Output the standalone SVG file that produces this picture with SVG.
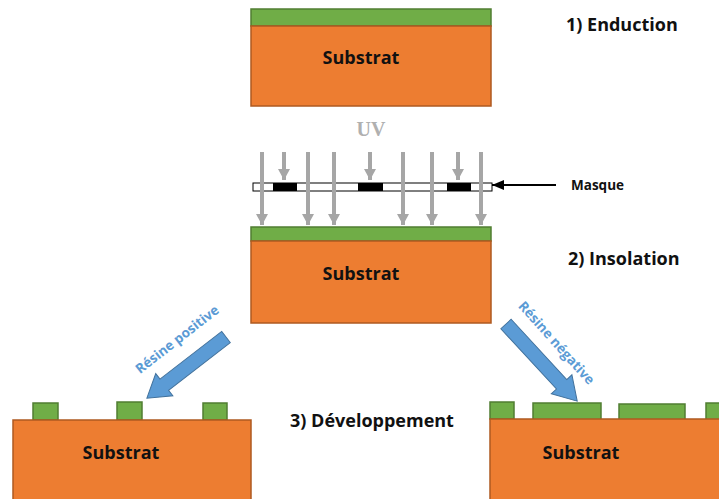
<svg xmlns="http://www.w3.org/2000/svg" width="719" height="499" viewBox="0 0 719 499">
<defs>
<style>
.sub{fill:#ED7D31;stroke:#AE5A21;stroke-width:1.5}
.res{fill:#70AD47;stroke:#507E32;stroke-width:1.5}
.lbl{font-family:"Open Sans","Liberation Sans",sans-serif;font-weight:700;fill:#111}
.uv{stroke:#A6A6A6;stroke-width:4;fill:none}
.blue{fill:#5B9BD5;stroke:#41719C;stroke-width:1}
.btxt{font-family:"Open Sans","Liberation Sans",sans-serif;font-weight:700;fill:#5B9BD5;font-size:13.5px}
</style>
<marker id="uvh" markerWidth="12" markerHeight="12" refX="11" refY="6" orient="auto" markerUnits="userSpaceOnUse">
<path d="M0,0 L11,6 L0,12 Z" fill="#A6A6A6"/>
</marker>
<marker id="blk" markerWidth="12" markerHeight="10" refX="12" refY="5" orient="auto" markerUnits="userSpaceOnUse">
<path d="M0,0 L12,5 L0,10 Z" fill="#000"/>
</marker>
</defs>
<rect width="719" height="499" fill="#fff"/>

<g id="step1">
<rect class="res" x="251" y="9" width="240" height="17"/>
<rect class="sub" x="251" y="26" width="240" height="80"/>
<text class="lbl" x="361" y="64" font-size="18" text-anchor="middle">Substrat</text>
<text class="lbl" x="566" y="31" font-size="18">1) Enduction</text>
</g>

<g id="uv">
<text x="371" y="136" font-family="Liberation Serif,serif" font-weight="700" font-size="20" fill="#B0B0B0" text-anchor="middle">UV</text>
</g>

<g id="mask">
<rect x="253" y="183" width="239" height="8" fill="#fff" stroke="#000" stroke-width="1"/>
<rect x="273" y="183" width="24" height="8" fill="#000"/>
<rect x="358" y="183" width="25" height="8" fill="#000"/>
<rect x="447" y="183" width="24" height="8" fill="#000"/>
<text class="lbl" x="571" y="190" font-size="13.5">Masque</text>
</g>

<g id="connectors">
<line class="uv" x1="262" y1="152" x2="262" y2="225" marker-end="url(#uvh)"/>
<line class="uv" x1="308" y1="152" x2="308" y2="225" marker-end="url(#uvh)"/>
<line class="uv" x1="334" y1="152" x2="334" y2="225" marker-end="url(#uvh)"/>
<line class="uv" x1="403" y1="152" x2="403" y2="225" marker-end="url(#uvh)"/>
<line class="uv" x1="432" y1="152" x2="432" y2="225" marker-end="url(#uvh)"/>
<line class="uv" x1="481" y1="152" x2="481" y2="225" marker-end="url(#uvh)"/>
<line class="uv" x1="284" y1="152" x2="284" y2="180" marker-end="url(#uvh)"/>
<line class="uv" x1="370" y1="152" x2="370" y2="180" marker-end="url(#uvh)"/>
<line class="uv" x1="458" y1="152" x2="458" y2="180" marker-end="url(#uvh)"/>
<line x1="556" y1="185" x2="492" y2="185" stroke="#000" stroke-width="2" marker-end="url(#blk)"/>
<g transform="translate(226,337) rotate(142.3)">
<polygon class="blue" points="0,-7 78,-7 78,-14 100,0 78,14 78,7 0,7"/>
</g>
<g transform="translate(506,324) rotate(47.3)">
<polygon class="blue" points="0,-7 82,-7 82,-14 105,0 82,14 82,7 0,7"/>
</g>
</g>

<g id="step2">
<rect class="res" x="251" y="227" width="240" height="14"/>
<rect class="sub" x="251" y="241" width="240" height="82"/>
<text class="lbl" x="361" y="280" font-size="18" text-anchor="middle">Substrat</text>
<text class="lbl" x="568" y="265" font-size="18">2) Insolation</text>
</g>

<g id="step3">
<text class="lbl" x="290" y="427" font-size="18">3) Développement</text>
</g>

<g id="positive">
<rect class="res" x="33" y="403" width="25" height="17"/>
<rect class="res" x="117" y="402" width="25" height="18"/>
<rect class="res" x="203" y="403" width="24" height="17"/>
<rect class="sub" x="13" y="420" width="238" height="82"/>
<text class="lbl" x="121" y="459" font-size="18" text-anchor="middle">Substrat</text>
<text class="btxt" transform="translate(180,343) rotate(-38)" text-anchor="middle">Résine positive</text>
</g>

<g id="negative">
<rect class="res" x="490" y="402" width="24" height="17"/>
<rect class="res" x="533" y="403" width="68" height="17"/>
<rect class="res" x="619" y="404" width="66" height="17"/>
<rect class="res" x="706" y="403" width="20" height="17"/>
<rect class="sub" x="490" y="419" width="240" height="83"/>
<text class="lbl" x="581" y="459" font-size="18" text-anchor="middle">Substrat</text>
<text class="btxt" transform="translate(553,346) rotate(48)" text-anchor="middle">Résine négative</text>
</g>
</svg>
